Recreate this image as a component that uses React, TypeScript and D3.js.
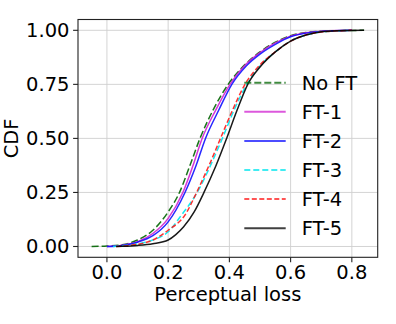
import React from "react";
import * as d3 from "d3";

// CDF curves: [perceptual loss, cumulative fraction]
const noFT: [number, number][] = [
  [-0.05, 0], [0.0, 0.002], [0.05, 0.008], [0.1, 0.03], [0.15, 0.075], [0.2, 0.16],
  [0.237, 0.25], [0.27, 0.37], [0.304, 0.5], [0.35, 0.64], [0.396, 0.75], [0.45, 0.84],
  [0.5, 0.9], [0.55, 0.945], [0.6, 0.975], [0.65, 0.99], [0.7, 0.996], [0.84, 1.0],
];
const ft1: [number, number][] = [
  [0.0, 0], [0.05, 0.006], [0.1, 0.022], [0.15, 0.06], [0.2, 0.13], [0.248, 0.25],
  [0.28, 0.37], [0.311, 0.5], [0.355, 0.63], [0.402, 0.75], [0.45, 0.837], [0.5, 0.897],
  [0.55, 0.942], [0.6, 0.973], [0.65, 0.989], [0.7, 0.996], [0.8, 1.0],
];
const ft2: [number, number][] = [
  [0.0, 0], [0.05, 0.005], [0.1, 0.02], [0.15, 0.05], [0.2, 0.114], [0.255, 0.25],
  [0.29, 0.37], [0.322, 0.5], [0.365, 0.63], [0.408, 0.75], [0.455, 0.835], [0.5, 0.89],
  [0.55, 0.935], [0.6, 0.97], [0.65, 0.987], [0.7, 0.995], [0.8, 1.0],
];
const ft3: [number, number][] = [
  [0.02, 0], [0.05, 0.003], [0.1, 0.012], [0.15, 0.03], [0.2, 0.068], [0.246, 0.15],
  [0.295, 0.25], [0.34, 0.38], [0.377, 0.5], [0.415, 0.63], [0.457, 0.75], [0.5, 0.835],
  [0.55, 0.9], [0.6, 0.95], [0.65, 0.978], [0.7, 0.992], [0.8, 1.0],
];
const ft4: [number, number][] = [
  [0.03, 0], [0.05, 0.002], [0.1, 0.01], [0.15, 0.03], [0.2, 0.075], [0.257, 0.15],
  [0.293, 0.25], [0.335, 0.38], [0.371, 0.5], [0.41, 0.63], [0.451, 0.75], [0.5, 0.84],
  [0.55, 0.9], [0.6, 0.95], [0.65, 0.978], [0.7, 0.992], [0.8, 1.0],
];
const ft5: [number, number][] = [
  [0.03, 0], [0.05, 0.001], [0.1, 0.005], [0.15, 0.013], [0.2, 0.03], [0.225, 0.055],
  [0.25, 0.09], [0.285, 0.16], [0.317, 0.25], [0.355, 0.37], [0.391, 0.5], [0.425, 0.63],
  [0.46, 0.75], [0.5, 0.83], [0.55, 0.9], [0.6, 0.95], [0.65, 0.978], [0.7, 0.993],
  [0.75, 0.998], [0.84, 1.0],
];

const seriesNames = ["No FT", "FT-1", "FT-2", "FT-3", "FT-4", "FT-5"];
const seriesData = [noFT, ft1, ft2, ft3, ft4, ft5];
const colors = ["#006400", "#d020d0", "#1010ff", "#00e5ee", "#ff1a1a", "#000000"];
const dashes = ["7,3", null, null, "6,3", "5,2.5", null];

const xTicks = [0.0, 0.2, 0.4, 0.6, 0.8];
const yTicks = [0.0, 0.25, 0.5, 0.75, 1.0];

const W = 396, H = 324;
const margin = { left: 78, top: 19.5, right: 377.7, bottom: 257.3 };
const font = "DejaVu Sans, sans-serif";
const fs = 19.5;

const App = () => {
  const x = d3.scaleLinear().domain([-0.0945, 0.8845]).range([margin.left, margin.right]);
  const y = d3.scaleLinear().domain([-0.05, 1.05]).range([margin.bottom, margin.top]);
  const line = d3
    .line<[number, number]>()
    .x(d => x(d[0]))
    .y(d => y(d[1]))
    .curve(d3.curveMonotoneX);

  return (
    <svg width={W} height={H} style={{ position: "absolute", left: 0, top: 0, background: "#fff" }}>
      {/* grid */}
      {xTicks.map(t => (
        <line key={"gx" + t} x1={x(t)} x2={x(t)} y1={margin.top} y2={margin.bottom} stroke="#cfcfcf" strokeWidth={0.9} />
      ))}
      {yTicks.map(t => (
        <line key={"gy" + t} x1={margin.left} x2={margin.right} y1={y(t)} y2={y(t)} stroke="#cfcfcf" strokeWidth={0.9} />
      ))}

      {/* curves */}
      {seriesData.map((d, i) => (
        <path
          key={seriesNames[i]}
          d={line(d) || ""}
          fill="none"
          stroke={colors[i]}
          strokeWidth={1.5}
          strokeDasharray={dashes[i] || undefined}
          strokeOpacity={0.9}
        />
      ))}

      {/* legend, no frame */}
      {seriesNames.map((name, i) => {
        const ly = 82.7 + i * 29.1;
        return (
          <g key={"lg" + name}>
            <line
              x1={244.3}
              x2={285.7}
              y1={ly}
              y2={ly}
              stroke={colors[i]}
              strokeWidth={2}
              strokeOpacity={0.75}
              strokeDasharray={dashes[i] || undefined}
            />
            <text x={301.7} y={ly + 7} fontFamily={font} fontSize={fs} fill="#000">
              {name}
            </text>
          </g>
        );
      })}

      {/* spines */}
      <rect
        x={margin.left}
        y={margin.top}
        width={margin.right - margin.left}
        height={margin.bottom - margin.top}
        fill="none"
        stroke="#222"
        strokeWidth={1.1}
      />

      {/* x axis */}
      {xTicks.map(t => (
        <g key={"xt" + t}>
          <line x1={x(t)} x2={x(t)} y1={margin.bottom} y2={margin.bottom + 4.9} stroke="#222" strokeWidth={1.1} />
          <text x={x(t)} y={278.5} textAnchor="middle" fontFamily={font} fontSize={fs} fill="#000">
            {d3.format(".1f")(t)}
          </text>
        </g>
      ))}
      <text x={(margin.left + margin.right) / 2} y={301} textAnchor="middle" fontFamily={font} fontSize={fs} fill="#000">
        Perceptual loss
      </text>

      {/* y axis */}
      {yTicks.map(t => (
        <g key={"yt" + t}>
          <line x1={margin.left - 4.9} x2={margin.left} y1={y(t)} y2={y(t)} stroke="#222" strokeWidth={1.1} />
          <text x={69.5} y={y(t) + 7} textAnchor="end" fontFamily={font} fontSize={fs} fill="#000">
            {d3.format(".2f")(t)}
          </text>
        </g>
      ))}
      <text
        transform={`translate(18, ${(margin.top + margin.bottom) / 2}) rotate(-90)`}
        textAnchor="middle"
        fontFamily={font}
        fontSize={fs}
        fill="#000"
      >
        CDF
      </text>
    </svg>
  );
};

export default App;
